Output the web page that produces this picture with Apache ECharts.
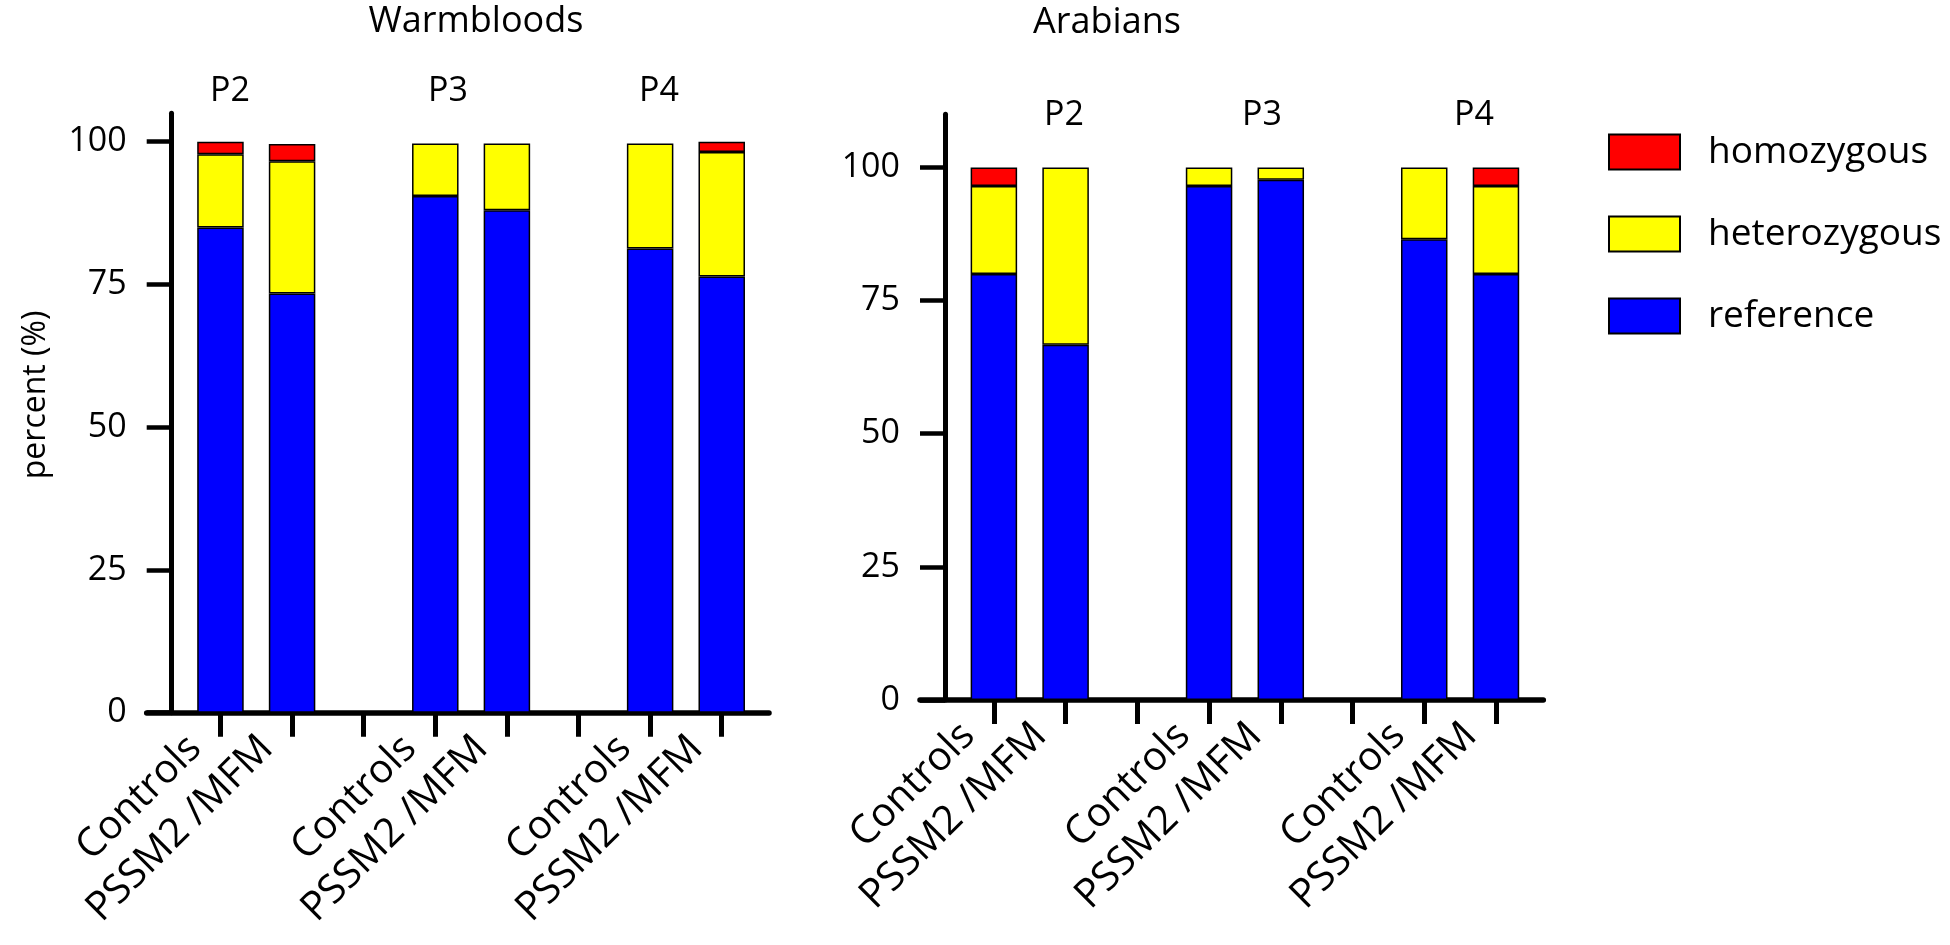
<!DOCTYPE html>
<html><head><meta charset="utf-8">
<script src="https://cdn.jsdelivr.net/npm/echarts@6/dist/echarts.min.js"></script>
<style>html,body{margin:0;padding:0;background:#fff}#c{width:1950px;height:945px}</style>
</head><body><div id="c"></div>
<script>
// ---------- data ----------
const categories = ['Controls', 'PSSM2 /MFM', '', 'Controls', 'PSSM2 /MFM', '', 'Controls', 'PSSM2 /MFM'];
const groupLabels = ['P2', 'P3', 'P4'];
const panelTitles = ['Warmbloods', 'Arabians'];
const seriesNames = ['reference', 'heterozygous', 'homozygous'];
const legendOrder = ['homozygous', 'heterozygous', 'reference'];
const yTicks = [0, 25, 50, 75, 100];
// Warmbloods (percent), null = empty slot
const wbReference    = [85.0, 73.4, null, 90.5, 88.0, null, 81.3, 76.4];
const wbHeterozygous = [12.8, 23.2, null,  9.2, 11.7, null, 18.4, 21.8];
const wbHomozygous   = [ 2.2,  3.0, null,  0,    0,   null,  0,    1.8];
// Arabians (percent)
const arReference    = [80.0, 66.7, null, 96.5, 97.7, null, 86.5, 80.0];
const arHeterozygous = [16.5, 33.3, null,  3.5,  2.3, null, 13.5, 16.5];
const arHomozygous   = [ 3.5,  0,   null,  0,    0,   null,  0,    3.5];

// ---------- styles ----------
const FONT = '"Open Sans", "DejaVu Sans", sans-serif';
const colors = { reference: '#0000FF', heterozygous: '#FFFF00', homozygous: '#FF0000' };
const tickIdx = categories.map((_, i) => i);

function xAxisCfg(gi) {
  return {
    gridIndex: gi, type: 'value', min: -1.03, max: 7.66,
    axisLine: { show: true, onZero: false, lineStyle: { color: '#000', width: 5.5 } },
    axisTick: { show: true, customValues: tickIdx, length: 24, lineStyle: { color: '#000', width: 5 } },
    axisLabel: {
      customValues: tickIdx, formatter: v => categories[Math.round(v)] || '',
      rotate: 45, margin: 4, padding: [0, 36, 0, 0],
      fontSize: 40, fontFamily: FONT, color: '#000'
    },
    splitLine: { show: false }
  };
}
function yAxisCfg(gi, max, withName) {
  const c = {
    gridIndex: gi, type: 'value', min: 0, max: max, interval: 25, offset: -25,
    axisLine: { show: true, onZero: false, lineStyle: { color: '#000', width: 5 } },
    axisTick: { show: true, customValues: yTicks, length: 25, lineStyle: { color: '#000', width: 4.5 } },
    axisLabel: { customValues: yTicks, margin: 45, fontSize: 34, fontFamily: FONT, color: '#000' },
    splitLine: { show: false }
  };
  if (withName) {
    c.name = 'percent (%)';
    c.nameLocation = 'middle';
    c.nameGap = 120;
    c.nameTextStyle = { fontSize: 32, fontFamily: FONT, color: '#000', padding: [0, 0, 0, 36] };
  }
  return c;
}
function stackSeries(gi, arrays) {
  return seriesNames.map((name, k) => ({
    name: name, type: 'bar', stack: 'g' + gi,
    xAxisIndex: gi, yAxisIndex: gi, barWidth: 46.5,
    itemStyle: { color: colors[name], borderColor: '#000', borderWidth: 1.5 },
    emphasis: { disabled: true },
    encode: { x: 1, y: 0 },
    data: arrays[k].map((v, i) => [(v === null || v === 0) ? null : v, i])
  }));
}

const textEls = [];
function addText(t, x, y, size) {
  textEls.push({ type: 'text', x: x, y: y, silent: true,
    style: { text: t, fontSize: size, fontFamily: FONT, fill: '#000', align: 'center', verticalAlign: 'middle' } });
}
addText(panelTitles[0], 476, 22, 36);
addText(panelTitles[1], 1107, 23, 36);
[230, 448, 659].forEach((x, i) => addText(groupLabels[i], x, 91, 34));
[1064, 1262, 1474].forEach((x, i) => addText(groupLabels[i], x, 115, 34));

const option = {
  animation: false,
  backgroundColor: '#fff',
  grid: [
    { left: 146.7, top: 113.2, width: 622.3, height: 599.5 },
    { left: 920, top: 114.2, width: 623.3, height: 585.8 }
  ],
  xAxis: [xAxisCfg(0), xAxisCfg(1)],
  yAxis: [yAxisCfg(0, 105, true), yAxisCfg(1, 110, false)],
  legend: {
    orient: 'vertical', left: 1603, top: 128.5, itemWidth: 71, itemHeight: 35, itemGap: 45,
    icon: 'rect', selectedMode: false, data: legendOrder,
    textStyle: { fontSize: 37, fontFamily: FONT, color: '#000', lineHeight: 35, padding: [0, 0, 0, 23] }
  },
  graphic: textEls,
  series: [].concat(
    stackSeries(0, [wbReference, wbHeterozygous, wbHomozygous]),
    stackSeries(1, [arReference, arHeterozygous, arHomozygous])
  )
};
echarts.init(document.getElementById('c'), null, { renderer: 'canvas' }).setOption(option);
</script>
</body></html>
